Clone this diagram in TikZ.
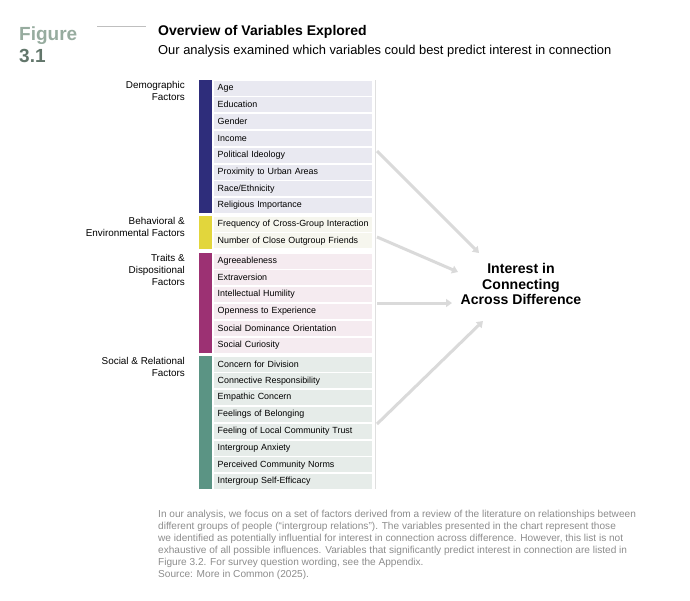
\documentclass[tikz,border=0pt]{standalone}
\usepackage{fontspec}
\setmainfont{Liberation Sans}
\usetikzlibrary{arrows.meta}

\definecolor{figlight}{HTML}{97AC9F}
\definecolor{figdark}{HTML}{62766B}
\definecolor{demobar}{HTML}{2E2D7B}
\definecolor{demorow}{HTML}{E9E9F1}
\definecolor{behavbar}{HTML}{E2D63C}
\definecolor{behavrow}{HTML}{F6F6EE}
\definecolor{traitbar}{HTML}{9C3173}
\definecolor{traitrow}{HTML}{F5EBF0}
\definecolor{socialbar}{HTML}{5B9484}
\definecolor{socialrow}{HTML}{E6ECE9}
\definecolor{arrowgray}{HTML}{DADADA}
\definecolor{notegray}{HTML}{8C8C8C}

\tikzset{
  rowbox/.style={anchor=west, inner xsep=3.5pt, inner ysep=0pt, text width=151pt,
    minimum height=15pt, align=left, font=\fontsize{8.9}{10}\selectfont},
  grouplabel/.style={anchor=north east, inner sep=0pt, align=right,
    font=\fontsize{9.9}{12}\selectfont},
  feed/.style={line width=3pt, arrowgray, -{Triangle[length=6pt,width=8pt]}}
}

\begin{document}
\begin{tikzpicture}[x=1pt,y=-1pt]
  \useasboundingbox (0,0) rectangle (690,600);

  % heading
  \node[anchor=base west, inner sep=0pt, figlight, font=\bfseries\fontsize{19}{20}\selectfont] (fig) at (19,40) {Figure};
  \node[anchor=base west, inner sep=0pt, figdark, font=\bfseries\fontsize{19}{20}\selectfont] (fignum) at (19,62) {3.1};
  \draw[gray!50, line width=0.7pt] (97,26) -- (146,26);
  \node[anchor=base west, inner sep=0pt, font=\bfseries\fontsize{14}{16}\selectfont] (title) at (158,35) {Overview of Variables Explored};
  \node[anchor=base west, inner sep=0pt, font=\fontsize{12.9}{15}\selectfont] (subtitle) at (158,54) {Our analysis examined which variables could best predict interest in connection};

  % rows
  \foreach \txt [count=\i] in {Age, Education, Gender, Income, Political Ideology,
      Proximity to Urban Areas, Race/Ethnicity, Religious Importance}
    \node[rowbox, fill=demorow] (demo-\i) at (214,71.2+16.8*\i) {\mbox{\txt}};
  \foreach \txt [count=\i] in {Frequency of Cross-Group Interaction, Number of Close Outgroup Friends}
    \node[rowbox, fill=behavrow] (behav-\i) at (214,207.2+16.8*\i) {\mbox{\txt}};
  \foreach \txt [count=\i] in {Agreeableness, Extraversion, Intellectual Humility,
      Openness to Experience, Social Dominance Orientation, Social Curiosity}
    \node[rowbox, fill=traitrow] (trait-\i) at (214,244.2+16.8*\i) {\mbox{\txt}};
  \foreach \txt [count=\i] in {Concern for Division, Connective Responsibility, Empathic Concern,
      Feelings of Belonging, Feeling of Local Community Trust, Intergroup Anxiety,
      Perceived Community Norms, Intergroup Self-Efficacy}
    \node[rowbox, fill=socialrow] (social-\i) at (214,347.2+16.8*\i) {\mbox{\txt}};

  % group bars
  \fill[demobar] ([xshift=-15pt]demo-1.north west) rectangle ([xshift=-2pt]demo-8.south west);
  \fill[behavbar] ([xshift=-15pt]behav-1.north west) rectangle ([xshift=-2pt]behav-2.south west);
  \fill[traitbar] ([xshift=-15pt]trait-1.north west) rectangle ([xshift=-2pt]trait-6.south west);
  \fill[socialbar] ([xshift=-15pt]social-1.north west) rectangle ([xshift=-2pt]social-8.south west);
  \draw[gray!25, line width=0.8pt] ([xshift=3pt]demo-1.north east) -- ([xshift=3pt]social-8.south east);

  % group labels
  \node[grouplabel] (demo-label) at ([xshift=-29pt,yshift=-1pt]demo-1.north west) {Demographic\\Factors};
  \node[grouplabel] (behav-label) at ([xshift=-29pt,yshift=-1pt]behav-1.north west) {Behavioral \&\\Environmental Factors};
  \node[grouplabel] (trait-label) at ([xshift=-29pt,yshift=-1pt]trait-1.north west) {Traits \&\\Dispositional\\Factors};
  \node[grouplabel] (social-label) at ([xshift=-29pt,yshift=-1pt]social-1.north west) {Social \& Relational\\Factors};

  % outcome
  \node[align=center, font=\bfseries\fontsize{14.1}{15.5}\selectfont] (interest) at (521,284) {Interest in\\Connecting\\Across Difference};

  \coordinate (demo-out) at (377,151);
  \coordinate (behav-out) at (377,237);
  \coordinate (trait-out) at (377,303);
  \coordinate (social-out) at (377,424);
  \coordinate (demo-in) at (479,253);
  \coordinate (behav-in) at (458,272);
  \coordinate (trait-in) at (452,303);
  \coordinate (social-in) at (483,321);
  \draw[feed] (demo-out) -- (demo-in);
  \draw[feed] (behav-out) -- (behav-in);
  \draw[feed] (trait-out) -- (trait-in);
  \draw[feed] (social-out) -- (social-in);

  % note
  \node[anchor=north west, inner sep=0pt, align=left, notegray, font=\fontsize{10.1}{12}\selectfont] (note) at (158,510)
    {In our analysis, we focus on a set of factors derived from a review of the literature on relationships between\\
     different groups of people (``intergroup relations''). The variables presented in the chart represent those\\
     we identified as potentially influential for interest in connection across difference. However, this list is not\\
     exhaustive of all possible influences. Variables that significantly predict interest in connection are listed in\\
     Figure 3.2. For survey question wording, see the Appendix.\\
     Source: More in Common (2025).};
\end{tikzpicture}
\end{document}
